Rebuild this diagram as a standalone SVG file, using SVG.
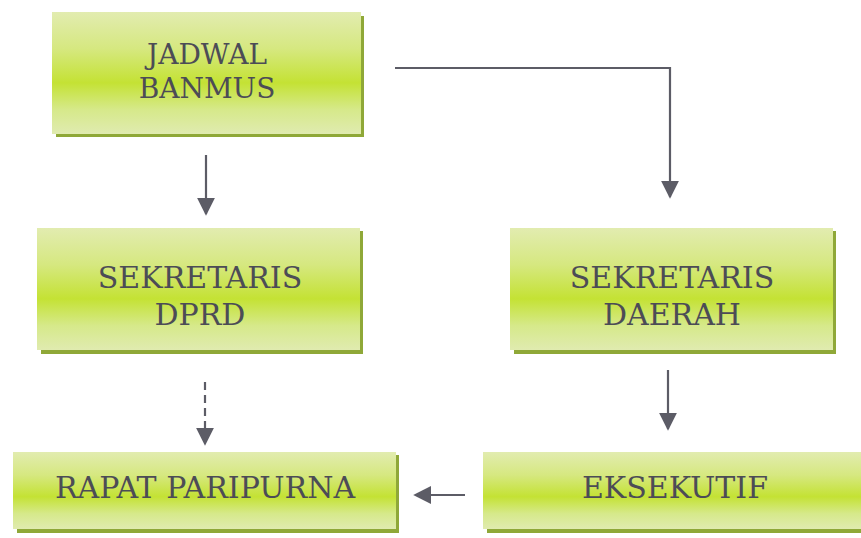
<svg xmlns="http://www.w3.org/2000/svg" width="861" height="538" viewBox="0 0 861 538">
<defs>
<linearGradient id="g" x1="0" y1="0" x2="0" y2="1">
<stop offset="0" stop-color="#e2ecb0"/>
<stop offset="0.3" stop-color="#d6e880"/>
<stop offset="0.58" stop-color="#c4e234"/>
<stop offset="0.8" stop-color="#d6e98a"/>
<stop offset="1" stop-color="#e0ebb0"/>
</linearGradient>
<marker id="ah" viewBox="0 0 10 10" refX="9" refY="5" markerWidth="18" markerHeight="18" orient="auto" markerUnits="userSpaceOnUse">
<path d="M0,0 L10,5 L0,10 z" fill="#5c5c66"/>
</marker>
<style>
.sh{fill:#8fa838;}
.bx{fill:url(#g);}
.t{font-family:"DejaVu Serif","Liberation Serif",serif;font-size:30px;fill:#4c4c56;text-anchor:middle;}
.c{fill:none;stroke:#5c5c66;stroke-width:2.2;marker-end:url(#ah);}
</style>
</defs>
<rect width="861" height="538" fill="#ffffff"/>
<g id="n1">
<rect class="sh" x="56" y="16" width="308" height="121"/>
<rect class="bx" x="52" y="12" width="309" height="122"/>
<text class="t" x="207" y="64" style="font-size:28px">JADWAL</text>
<text class="t" x="207" y="98" style="font-size:28px">BANMUS</text>
</g>
<g id="n2">
<rect class="sh" x="41" y="231" width="322" height="123"/>
<rect class="bx" x="37" y="228" width="323" height="122"/>
<text class="t" x="200" y="288">SEKRETARIS</text>
<text class="t" x="200" y="325">DPRD</text>
</g>
<g id="n3">
<rect class="sh" x="17" y="455" width="382" height="78"/>
<rect class="bx" x="13" y="452" width="383" height="77"/>
<text class="t" x="205" y="498">RAPAT PARIPURNA</text>
</g>
<g id="n4">
<rect class="sh" x="514" y="231" width="322" height="123"/>
<rect class="bx" x="510" y="228" width="323" height="122"/>
<text class="t" x="672" y="288">SEKRETARIS</text>
<text class="t" x="672" y="325">DAERAH</text>
</g>
<g id="n5">
<rect class="sh" x="487" y="455" width="378" height="78"/>
<rect class="bx" x="483" y="452" width="378" height="77"/>
<text class="t" x="675" y="498">EKSEKUTIF</text>
</g>
<g id="connectors">
<path class="c" d="M206,155 V214"/>
<path class="c" d="M395,68 H670 V197"/>
<path class="c" d="M205,382 V444" stroke-dasharray="8,5"/>
<path class="c" d="M668,370 V429"/>
<path class="c" d="M465,495 H415"/>
</g>
</svg>
